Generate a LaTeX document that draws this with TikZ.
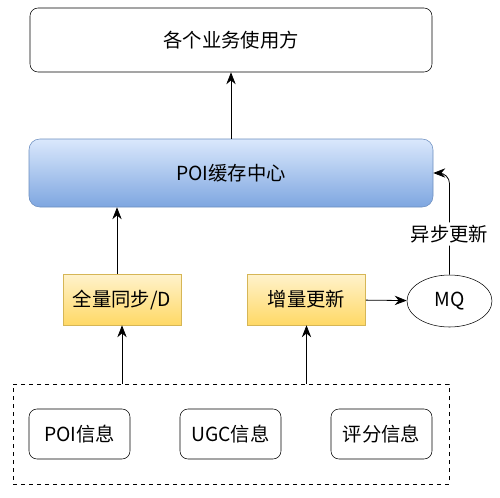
\documentclass[tikz,border=0pt]{standalone}
\usepackage{fontspec}
\setmainfont{Noto Sans CJK SC}
\usetikzlibrary{positioning,arrows.meta,shapes.geometric}
\definecolor{blueTop}{HTML}{DAE8FC}
\definecolor{blueBot}{HTML}{7EA6E0}
\definecolor{blueLine}{HTML}{6C8EBF}
\definecolor{yelTop}{HTML}{FFF2CC}
\definecolor{yelBot}{HTML}{FFD966}
\definecolor{yelLine}{HTML}{D6B656}
\begin{document}
\begin{tikzpicture}[x=0.75pt,y=-0.75pt,
    font=\fontsize{14.5}{17}\selectfont,
    box/.style={draw, rounded corners=6pt, inner sep=0pt},
    cache/.style={draw=blueLine, rounded corners=8pt, top color=blueTop, bottom color=blueBot},
    feed/.style={draw=yelLine, top color=yelTop, bottom color=yelBot,
        minimum width=88.5pt, minimum height=38.25pt},
    src/.style={box, minimum width=75.75pt, minimum height=37.5pt},
    arr/.style={-{Stealth[length=9pt,width=7pt]}, semithick}]
    \useasboundingbox (0,0) rectangle (500,497);
    % users and cache
    \node[box, minimum width=301.5pt, minimum height=48pt] (users) at (231,40) {各个业务使用方};
    \node[cache, minimum width=303pt, minimum height=51pt] (poi) at (231,173) {POI缓存中心};
    % sync paths
    \node[feed] (full) at (122,299.5) {全量同步/D};
    \node[feed] (incr) at (306.5,299.5) {增量更新};
    \node[draw, ellipse, minimum width=63.75pt, minimum height=39pt] (mq) at (449.5,301) {MQ};
    % sources
    \node[draw, dashed, minimum width=327pt, minimum height=75pt] (sources) at (231,434) {};
    \node[src] (poiinfo) at (79.5,434) {POI信息};
    \node[src] (ugc) at (230.5,434) {UGC信息};
    \node[src] (score) at (381.5,434) {评分信息};

    \draw[arr] (poi) -- (users);
    \draw[arr] (full.north -| 117,0) -- (poi.south -| 117,0);
    \draw[arr] (full |- sources.north) -- (full);
    \draw[arr] (incr |- sources.north) -- (incr);
    \draw[arr] (incr) -- (mq);
    \draw[arr, rounded corners=8pt] (mq.north) |- node[pos=0.2, fill=white, inner sep=2pt] {异步更新} (poi.east);
\end{tikzpicture}
\end{document}
